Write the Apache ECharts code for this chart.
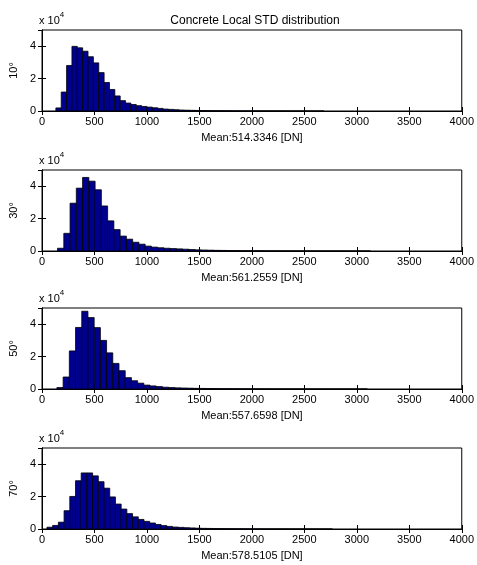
<!DOCTYPE html>
<html>
<head>
<meta charset="utf-8">
<script src="https://cdn.jsdelivr.net/npm/echarts@6/dist/echarts.min.js"></script>
<style>
  html, body { margin: 0; padding: 0; background: #fff; }
  #chart { width: 477px; height: 565px; }
</style>
</head>
<body>
<div id="chart"></div>
<script>
// histogram counts, in units of 10^4, one value per bin
var counts10 = [0.19,1.17,2.81,3.99,3.9,3.69,3.35,2.97,2.37,1.76,1.33,0.93,0.64,0.49,0.40,0.33,0.28,0.24,0.20,0.16,0.12,0.10,0.08,0.06,0.05,0.04,0.035,0.03,0.025,0.02,0.018,0.015,0.013,0.011,0.01,0.009,0.008,0.007,0.006,0.006,0.005,0.005,0.004,0.004,0.003,0.003,0.003,0.002,0.002,0.002];
var counts30 = [0.17,1.09,2.95,3.88,4.54,4.31,3.78,2.78,1.86,1.32,0.92,0.73,0.54,0.42,0.30,0.24,0.20,0.17,0.15,0.13,0.11,0.09,0.07,0.06,0.05,0.04,0.035,0.03,0.025,0.02,0.018,0.015,0.013,0.011,0.01,0.009,0.008,0.007,0.006,0.005,0.005,0.004,0.004,0.003,0.003,0.003,0.002,0.002,0.002,0.002];
var counts50 = [0.09,0.74,2.35,3.8,4.8,4.41,3.79,3.0,2.23,1.58,1.13,0.70,0.51,0.36,0.24,0.19,0.15,0.11,0.09,0.07,0.06,0.05,0.04,0.035,0.03,0.025,0.02,0.018,0.015,0.013,0.011,0.01,0.009,0.008,0.007,0.006,0.005,0.005,0.004,0.004,0.003,0.003,0.003,0.002,0.002,0.002,0.002,0.002,0.002,0.002];
var counts70 = [0.11,0.22,0.42,1.13,2.01,2.98,3.46,3.46,3.28,2.92,2.52,1.98,1.54,1.23,0.95,0.75,0.59,0.47,0.37,0.28,0.21,0.16,0.12,0.10,0.08,0.065,0.05,0.04,0.035,0.03,0.025,0.02,0.017,0.014,0.012,0.01,0.009,0.008,0.007,0.006,0.005,0.005,0.004,0.004,0.003,0.003,0.003,0.002,0.002,0.002];

// bin range (DN) of each histogram: [first edge, last edge]
var binRange10 = [132, 2686];
var binRange30 = [148, 3130];
var binRange50 = [142, 3100];
var binRange70 = [47, 2767];

var angles = ['10°', '30°', '50°', '70°'];
var means = ['514.3346', '561.2559', '557.6598', '578.5105'];
var xTicks = [0, 500, 1000, 1500, 2000, 2500, 3000, 3500, 4000];
var yTicks = [0, 2, 4];

var allCounts = [counts10, counts30, counts50, counts70];
var allRanges = [binRange10, binRange30, binRange50, binRange70];

var font = 'Liberation Sans, Arial, sans-serif';
var gridTops = [30, 170, 308, 448];
var gridH = 81;

function makeBins(counts, range) {
    var w = (range[1] - range[0]) / counts.length;
    return counts.map(function (c, i) {
        return [range[0] + i * w, range[0] + (i + 1) * w, c];
    });
}

function renderBin(params, api) {
    var p0 = api.coord([api.value(0), api.value(2)]);
    var p1 = api.coord([api.value(1), 0]);
    return {
        type: 'rect',
        shape: { x: p0[0], y: p0[1], width: p1[0] - p0[0], height: p1[1] - p0[1] },
        style: { fill: '#00008F', stroke: '#000', lineWidth: 0.8 }
    };
}

var chartDom = document.getElementById('chart');
var myChart = echarts.init(chartDom);

var grids = [], xAxes = [], yAxes = [], series = [], graphics = [];

for (var i = 0; i < 4; i++) {
    grids.push({
        left: 39, right: 15, top: gridTops[i], height: gridH,
        show: true, borderColor: '#000', borderWidth: 1, backgroundColor: '#fff'
    });
    // bottom axis with labels
    xAxes.push({
        type: 'value', gridIndex: i, position: 'bottom',
        min: xTicks[0], max: xTicks[xTicks.length - 1], interval: 500,
        name: 'Mean:' + means[i] + ' [DN]', nameLocation: 'middle', nameGap: 21,
        nameTextStyle: { color: '#000', fontFamily: font, fontSize: 11 },
        axisLine: { show: true, lineStyle: { color: '#000' } },
        axisTick: { inside: true, length: 4, lineStyle: { color: '#000' } },
        axisLabel: {
            color: '#000', fontFamily: font, fontSize: 11, margin: 5,
            formatter: function (v) { return String(v); }
        },
        splitLine: { show: false }
    });
    // mirrored top axis, ticks only
    xAxes.push({
        type: 'value', gridIndex: i, position: 'top',
        min: xTicks[0], max: xTicks[xTicks.length - 1], interval: 500,
        axisLine: { show: true, lineStyle: { color: '#000' } },
        axisTick: { inside: true, length: 4, lineStyle: { color: '#000' } },
        axisLabel: { show: false },
        splitLine: { show: false }
    });
    yAxes.push({
        type: 'value', gridIndex: i, position: 'left',
        min: 0, max: 5, interval: 2,
        name: angles[i], nameLocation: 'middle', nameGap: 20, nameRotate: 90,
        nameTextStyle: { color: '#000', fontFamily: font, fontSize: 11 },
        axisLine: { show: true, lineStyle: { color: '#000' } },
        axisTick: { inside: true, length: 4, lineStyle: { color: '#000' } },
        axisLabel: {
            color: '#000', fontFamily: font, fontSize: 11, margin: 6, showMaxLabel: false,
            formatter: function (v) { return yTicks.indexOf(v) >= 0 ? String(v) : ''; }
        },
        splitLine: { show: false }
    });
    yAxes.push({
        type: 'value', gridIndex: i, position: 'right',
        min: 0, max: 5, interval: 2,
        axisLine: { show: true, lineStyle: { color: '#000' } },
        axisTick: { inside: true, length: 4, lineStyle: { color: '#000' } },
        axisLabel: { show: false },
        splitLine: { show: false }
    });
    series.push({
        type: 'custom',
        xAxisIndex: i * 2, yAxisIndex: i * 2,
        renderItem: renderBin,
        encode: { x: [0, 1], y: 2 },
        data: makeBins(allCounts[i], allRanges[i]),
        silent: true,
        z: 1
    });
    // "x 10^4" exponent label above each axes
    graphics.push({
        type: 'text', left: 39, top: gridTops[i] - 19,
        style: {
            text: '{b|x 10}{s|4}',
            rich: {
                b: { fontFamily: font, fontSize: 11, fill: '#000', padding: [4, 0, 0, 0] },
                s: { fontFamily: font, fontSize: 8, fill: '#000', verticalAlign: 'top', padding: [0, 0, 6, 0] }
            }
        }
    });
}

var option = {
    animation: false,
    backgroundColor: '#fff',
    title: {
        text: 'Concrete Local STD distribution',
        left: 250, top: 10, textAlign: 'center',
        textStyle: { color: '#000', fontFamily: font, fontSize: 12, fontWeight: 'normal' }
    },
    grid: grids,
    xAxis: xAxes,
    yAxis: yAxes,
    series: series,
    graphic: graphics
};

option && myChart.setOption(option);

window.addEventListener('resize', function () {
    myChart.resize();
});
</script>
</body>
</html>
